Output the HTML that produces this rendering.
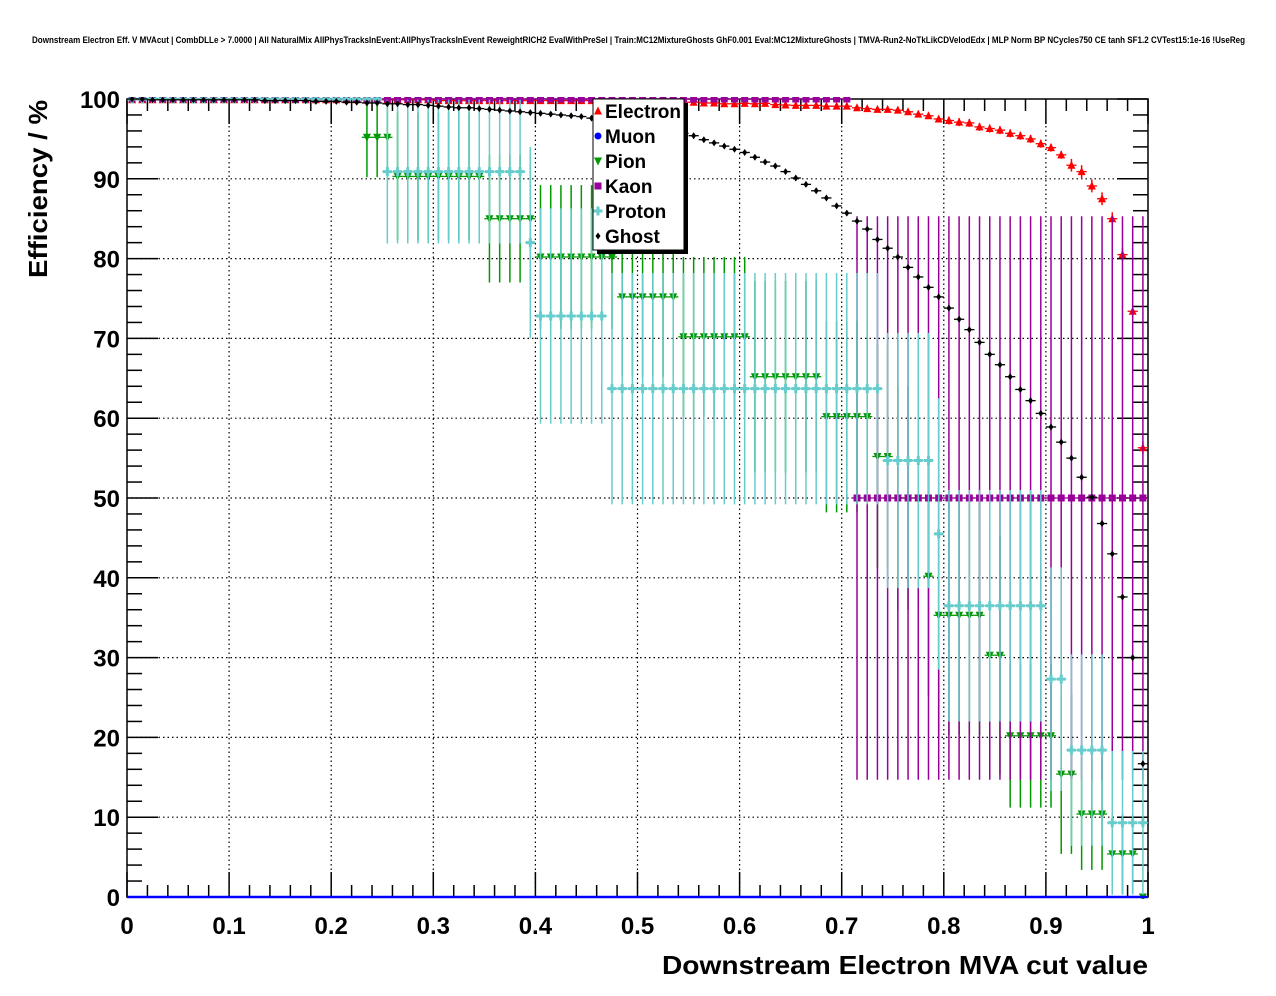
<!DOCTYPE html>
<html><head><meta charset="utf-8"><style>
html,body{margin:0;padding:0;background:#fff}
svg{display:block;font-family:"Liberation Sans",Arial,sans-serif}
</style></head><body>
<svg id="chart" width="1276" height="996" viewBox="0 0 1276 996" xmlns="http://www.w3.org/2000/svg">
<rect width="1276" height="996" fill="#fff"/>
<text x="32" y="43" font-size="9" font-weight="bold" textLength="1213" lengthAdjust="spacingAndGlyphs">Downstream Electron Eff. V MVAcut | CombDLLe &gt; 7.0000 | All NaturalMix AllPhysTracksInEvent:AllPhysTracksInEvent ReweightRICH2 EvalWithPreSel | Train:MC12MixtureGhosts GhF0.001 Eval:MC12MixtureGhosts | TMVA-Run2-NoTkLikCDVelodEdx | MLP Norm BP NCycles750 CE tanh SF1.2 CVTest15:1e-16 !UseReg</text>
<defs><clipPath id="frameclip"><rect x="127" y="97" width="1022" height="802"/></clipPath></defs>
<g id="grid"></g>
<g id="axes"></g>
<g id="series" clip-path="url(#frameclip)"></g>
<text x="1148" y="974" text-anchor="end" font-size="26" font-weight="bold" textLength="486" lengthAdjust="spacingAndGlyphs">Downstream Electron MVA cut value</text>
<text transform="translate(47,278) rotate(-90)" x="0" y="0" font-size="26" font-weight="bold" textLength="178" lengthAdjust="spacingAndGlyphs">Efficiency / %</text>
<g id="legend"></g>
</svg>
<script>
// ---- data (100 bins of MVA cut, bin width 0.01) ----
const nBins = 100;
const electron = [99.9,99.9,99.9,99.9,99.9,99.9,99.9,99.9,99.9,99.9,99.9,99.9,99.9,99.9,99.9,99.9,99.9,99.9,99.9,99.9,99.9,99.9,99.9,99.9,99.9,99.9,99.9,99.9,99.9,99.9,
99.8,99.8,99.8,99.8,99.8,99.8,99.8,99.8,99.8,99.8,99.8,99.8,99.8,99.8,99.8,99.8,99.8,99.8,99.8,99.8,99.6,99.6,99.6,99.6,99.6,99.6,
99.5,99.5,99.4,99.4,99.45,99.4,99.45,99.3,99.25,99.2,99.2,99.2,99.1,99.1,99.1,98.9,98.8,98.7,98.7,98.6,
98.4,98.1,97.9,97.5,97.3,97.1,97.0,96.5,96.3,96.1,95.7,95.4,95.0,94.4,93.9,93.0,91.7,90.9,89.1,87.5,85.0,80.5,73.4,56.3];
const electronErr = [0.1,0.1,0.1,0.1,0.1,0.1,0.1,0.1,0.1,0.1,0.1,0.1,0.1,0.1,0.1,0.1,0.1,0.1,0.1,0.1,0.1,0.1,0.1,0.1,0.1,0.1,0.1,0.1,0.1,0.1,
0.1,0.1,0.1,0.1,0.1,0.1,0.1,0.1,0.1,0.1,0.1,0.1,0.1,0.1,0.1,0.1,0.1,0.1,0.1,0.1,0.1,0.1,0.1,0.1,0.1,0.1,
0.3,0.3,0.3,0.3,0.3,0.3,0.3,0.3,0.3,0.3,0.3,0.3,0.3,0.3,0.3,0.3,0.3,0.3,0.3,0.3,0.3,0.3,0.3,0.3,
0.5,0.5,0.5,0.5,0.5,0.5,0.5,0.5,0.5,0.5,0.5,0.5,0.8,0.8,0.8,0.8,0.8,0.8,0.8,0.8];
const muon = [0,0,0,0,0,0,0,0,0,0,0,0,0,0,0,0,0,0,0,0,0,0,0,0,0,0,0,0,0,0,0,0,0,0,0,0,0,0,0,0,0,0,0,0,0,0,0,0,0,0,
0,0,0,0,0,0,0,0,0,0,0,0,0,0,0,0,0,0,0,0,0,0,0,0,0,0,0,0,0,0,0,0,0,0,0,0,0,0,0,0,0,0,0,0,0,0,0,0,0,0];
const pion = [100,100,100,100,100,100,100,100,100,100,100,100,100,100,100,100,100,100,100,100,100,100,100,
95.2,95.2,95.2,90.3,90.3,90.3,90.3,90.3,90.3,90.3,90.3,90.3,85,85,85,85,85,
80.2,80.2,80.2,80.2,80.2,80.2,80.2,80.2,75.2,75.2,75.2,75.2,75.2,75.2,
70.2,70.2,70.2,70.2,70.2,70.2,70.2,65.2,65.2,65.2,65.2,65.2,65.2,65.2,60.2,60.2,60.2,60.2,60.2,
55.2,55.2,50,50,50,40.2,35.3,35.3,35.3,35.3,35.3,30.3,30.3,20.2,20.2,20.2,20.2,20.2,15.4,15.4,10.4,10.4,10.4,5.4,5.4,5.4,0];
const pionErr = [0,0,0,0,0,0,0,0,0,0,0,0,0,0,0,0,0,0,0,0,0,0,0,
5,5,5,8,8,8,8,8,8,8,8,8,8,8,8,8,8,
9,9,9,9,9,9,9,9,10,10,10,10,10,10,
10,10,10,10,10,10,10,12,12,12,12,12,12,12,12,12,12,12,12,
14,14,14,14,14,15,15,15,15,15,15,15,15,9,9,9,9,9,10,10,7,7,7,5,5,5,0];
const kaon = [100,100,100,100,100,100,100,100,100,100,100,100,100,100,100,100,100,100,100,100,100,100,100,100,100,
100,100,100,100,100,100,100,100,100,100,100,100,100,100,100,100,100,100,100,100,100,100,100,100,100,
100,100,100,100,100,100,100,100,100,100,100,100,100,100,100,100,100,100,100,100,100,
50,50,50,50,50,50,50,50,50,50,50,50,50,50,50,50,50,50,50,50,50,50,50,50,50,50,50,50,50];
const kaonErr = [0,0,0,0,0,0,0,0,0,0,0,0,0,0,0,0,0,0,0,0,0,0,0,0,0,0,0,0,0,0,0,0,0,0,0,0,0,0,0,0,0,0,0,0,0,0,0,0,0,0,
0,0,0,0,0,0,0,0,0,0,0,0,0,0,0,0,0,0,0,0,0,
35.3,35.3,35.3,35.3,35.3,35.3,35.3,35.3,35.3,35.3,35.3,35.3,35.3,35.3,35.3,35.3,35.3,35.3,35.3,35.3,35.3,35.3,35.3,35.3,35.3,35.3,35.3,35.3,35.3];
const proton = [100,100,100,100,100,100,100,100,100,100,100,100,100,100,100,100,100,100,100,100,100,100,100,100,100,
90.9,90.9,90.9,90.9,90.9,90.9,90.9,90.9,90.9,90.9,90.9,90.9,90.9,90.9,82,
72.8,72.8,72.8,72.8,72.8,72.8,72.8,
63.7,63.7,63.7,63.7,63.7,63.7,63.7,63.7,63.7,63.7,63.7,63.7,63.7,63.7,63.7,63.7,63.7,63.7,63.7,63.7,63.7,63.7,63.7,63.7,63.7,63.7,63.7,
54.7,54.7,54.7,54.7,54.7,45.5,36.5,36.5,36.5,36.5,36.5,36.5,36.5,36.5,36.5,36.5,27.3,27.3,18.4,18.4,18.4,18.4,9.3,9.3,9.3,9.3];
const protonErr = [0,0,0,0,0,0,0,0,0,0,0,0,0,0,0,0,0,0,0,0,0,0,0,0,0,
9,9,9,9,9,9,9,9,9,9,9,9,9,9,12,
13.5,13.5,13.5,13.5,13.5,13.5,13.5,
14.5,14.5,14.5,14.5,14.5,14.5,14.5,14.5,14.5,14.5,14.5,14.5,14.5,14.5,14.5,14.5,14.5,14.5,14.5,14.5,14.5,14.5,14.5,14.5,14.5,14.5,14.5,
16,16,16,16,16,17,14.5,14.5,14.5,14.5,14.5,14.5,14.5,14.5,14.5,14.5,14,14,12,12,12,12,9,9,9,9];
const ghost = [100,100,99.9,99.9,99.9,99.9,99.9,99.9,99.9,99.9,99.9,99.9,99.9,99.8,99.8,99.8,99.8,99.8,99.7,99.7,
99.7,99.6,99.6,99.5,99.5,99.4,99.4,99.3,99.3,99.2,99.1,99.0,98.9,98.9,98.8,98.7,98.6,98.5,98.4,98.3,
98.2,98.1,98.0,97.9,97.8,97.6,97.5,97.3,97.1,96.9,96.7,96.5,96.3,96.0,95.7,95.4,
94.9,94.5,94.1,93.7,93.3,92.7,92.1,91.6,90.9,90.1,89.3,88.5,87.6,86.6,85.7,84.7,83.7,82.4,81.3,80.2,
78.9,77.7,76.4,75.2,73.8,72.4,71.1,69.5,68.0,66.7,65.2,63.6,62.2,60.6,58.9,57.0,55.0,52.6,50.1,46.8,43.0,37.6,30.0,16.7];
const ghostErr = [0.1,0.1,0.1,0.1,0.1,0.1,0.1,0.1,0.1,0.1,0.1,0.1,0.1,0.1,0.1,0.1,0.1,0.1,0.1,0.1,0.1,0.1,0.1,0.1,0.1,0.1,0.1,0.1,0.1,0.1,
0.1,0.1,0.1,0.1,0.1,0.1,0.1,0.1,0.1,0.1,0.1,0.1,0.1,0.1,0.1,0.1,0.1,0.1,0.1,0.1,0.2,0.2,0.2,0.2,0.2,0.2,0.2,0.2,0.2,0.2,
0.2,0.2,0.2,0.2,0.2,0.2,0.2,0.2,0.2,0.2,0.2,0.2,0.2,0.2,0.2,0.2,0.2,0.2,0.2,0.2,0.3,0.3,0.3,0.3,0.3,0.3,0.3,0.3,0.3,0.3,
0.3,0.3,0.3,0.3,0.3,0.3,0.3,0.3,0.3,0.3];
const xTickLabels = ["0","0.1","0.2","0.3","0.4","0.5","0.6","0.7","0.8","0.9","1"];
const yTickLabels = ["0","10","20","30","40","50","60","70","80","90","100"];
const legendNames = ["Electron","Muon","Pion","Kaon","Proton","Ghost"];

// ---- axes ----
const X0=127, X1=1148, Y0=897, Y1=99;
function X(v){return X0+v*(X1-X0);}
function Y(v){return Y0-v/100*(Y0-Y1);}
const NS="http://www.w3.org/2000/svg";
function mk(tag,attrs,parent){const e=document.createElementNS(NS,tag);for(const k in attrs)e.setAttribute(k,attrs[k]);parent.appendChild(e);return e;}
const grid=document.getElementById('grid'), axes=document.getElementById('axes'), ser=document.getElementById('series'), leg=document.getElementById('legend');

for(let i=1;i<10;i++){
  const gx=mk('line',{x1:X(i/10),x2:X(i/10),y1:Y1,y2:Y0,stroke:'#000','stroke-width':1.2,'stroke-dasharray':'1.5 3'},grid);
  
  
  const gy=mk('line',{x1:X0,x2:X1,y1:Y(i*10),y2:Y(i*10),stroke:'#000','stroke-width':1.2,'stroke-dasharray':'1.5 3'},grid);
  
  
}
const frame=mk('rect',{x:X0,y:Y1,width:X1-X0,height:Y0-Y1,fill:'none',stroke:'#000','stroke-width':1.5},axes);


for(let i=0;i<=50;i++){
  const v=i/50, L=(i%5===0)?25:12;
  mk('line',{x1:X(v),x2:X(v),y1:Y0,y2:Y0-L,stroke:'#000','stroke-width':1.5},axes);
  mk('line',{x1:X(v),x2:X(v),y1:Y1,y2:Y1+L,stroke:'#000','stroke-width':1.5},axes);
  const v2=i*2, L2=(i%5===0)?31:15;
  mk('line',{x1:X0,x2:X0+L2,y1:Y(v2),y2:Y(v2),stroke:'#000','stroke-width':1.5},axes);
  mk('line',{x1:X1,x2:X1-L2,y1:Y(v2),y2:Y(v2),stroke:'#000','stroke-width':1.5},axes);
}
xTickLabels.forEach((t,i)=>{
  const e=mk('text',{x:X(i/10),y:934,'text-anchor':'middle','font-size':24,'font-weight':'bold'},axes);
  e.textContent=t;
  
  
});
yTickLabels.forEach((t,i)=>{
  const e=mk('text',{x:120,y:Y(i*10)+9,'text-anchor':'end','font-size':24,'font-weight':'bold'},axes);
  e.textContent=t;
  
  
});

// ---- markers ----
function marker(kind,cx,cy,color,parent){
  if(kind==='tri') return mk('polygon',{points:`${cx-4},${cy+3.5} ${cx+4},${cy+3.5} ${cx},${cy-4.5}`,fill:color},parent);
  if(kind==='tridown') return mk('polygon',{points:`${cx-4},${cy-3.5} ${cx+4},${cy-3.5} ${cx},${cy+4.5}`,fill:color},parent);
  if(kind==='sq') return mk('rect',{x:cx-3.5,y:cy-3.5,width:7,height:7,fill:color},parent);
  if(kind==='cross') return mk('path',{d:`M${cx-4.5},${cy-1.5}h3v-3h3v3h3v3h-3v3h-3v-3h-3z`,fill:color},parent);
  if(kind==='circ') return mk('circle',{cx:cx,cy:cy,r:3.5,fill:color},parent);
  return mk('path',{d:`M${cx},${cy-3.5}L${cx+2.5},${cy}L${cx},${cy+3.5}L${cx-2.5},${cy}z`,fill:color},parent);
}
function drawSeries(name,vals,errs,color,kind){
  const g=mk('g',{},ser);
  
  
  for(let i=0;i<nBins;i++){
    const v=vals[i], e=errs?errs[i]:0;
    const xc=X((i+0.5)/nBins), xl=X(i/nBins), xr=X((i+1)/nBins);
    mk('line',{x1:xl,x2:xr,y1:Y(v),y2:Y(v),stroke:color,'stroke-width':kind==='none'?2.5:1.3},g);
    if(e>0){mk('line',{x1:xc,x2:xc,y1:Y(v+e),y2:Y(v-e),stroke:color,'stroke-width':1.5},g);}
    if(kind!=='none'){
      const m=marker(kind,xc,Y(v),color,g);
      
      
    }
  }
}
drawSeries('electron',electron,electronErr,'#ff0000','tri');
drawSeries('pion',pion,pionErr,'#009900','tridown');
drawSeries('kaon',kaon,kaonErr,'#990099','sq');
drawSeries('proton',proton,protonErr,'#66cccc','cross');
drawSeries('ghost',ghost,ghostErr,'#000000','dot');
drawSeries('muon',muon,null,'#0000ff','none');

// ---- legend ----
mk('rect',{x:597,y:103,width:91,height:151,fill:'#000'},leg);
const lb=mk('rect',{x:593,y:99,width:91,height:151,fill:'#fff',stroke:'#000','stroke-width':1},leg);


const legColors=['#ff0000','#0000ff','#009900','#990099','#66cccc','#000000'];
const legKinds=['tri','circ','tridown','sq','cross','dot'];
legendNames.forEach((n,i)=>{
  const cy=111+i*25;
  const g=mk('g',{},leg);
  
  
  marker(legKinds[i],598,cy,legColors[i],g);
  const t=mk('text',{x:605,y:cy+7,'font-size':19,'font-weight':'bold'},g);
  t.textContent=n;
});
</script>
</body></html>
